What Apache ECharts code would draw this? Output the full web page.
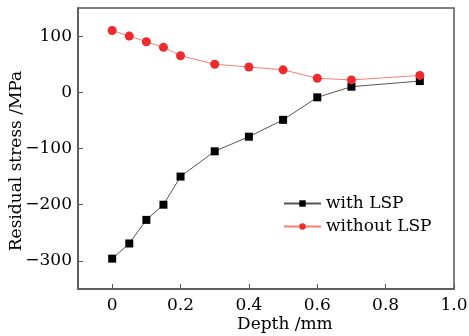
<!DOCTYPE html>
<html><head><meta charset="utf-8">
<script src="https://cdn.jsdelivr.net/npm/echarts@6/dist/echarts.min.js"></script>
<style>html,body{margin:0;padding:0;background:#fff}#c{width:469px;height:336px}</style>
</head><body><div id="c"></div>
<script>
const depth = [0, 0.05, 0.1, 0.15, 0.2, 0.3, 0.4, 0.5, 0.6, 0.7, 0.9];
const withLSP = [-296, -269, -227, -200, -150, -105, -79, -49, -9, 10, 20];
const withoutLSP = [110, 100, 90, 80, 65, 50, 45, 40, 25, 22, 30];
const xTicks = [0, 0.2, 0.4, 0.6, 0.8, 1.0];
const yTicks = [-300, -200, -100, 0, 100];
const F = '"DejaVu Serif",serif';
const chart = echarts.init(document.getElementById('c'));
chart.setOption({
  animation: false,
  grid: {left: 78, right: 15, top: 8, bottom: 47, show: true, borderColor: '#555', borderWidth: 1.5,
    containLabel: false, outerBoundsMode: 'none'},
  legend: {
    left: 278, top: 190, orient: 'vertical', itemWidth: 37, itemHeight: 8, itemGap: 6,
    textStyle: {fontFamily: F, fontSize: 17, color: '#000'},
    data: ['with LSP', 'without LSP']
  },
  xAxis: {
    type: 'value', min: -0.1, max: 1.0,
    axisLine: {onZero: false, lineStyle: {color: '#555', width: 1.5}},
    axisTick: {inside: true, length: 5, customValues: xTicks, lineStyle: {color: '#555'}},
    axisLabel: {customValues: xTicks, fontFamily: F, fontSize: 17, color: '#000', margin: 8,
      formatter: v => v === 0 ? '0' : v.toFixed(1)},
    splitLine: {show: false}
  },
  yAxis: {
    type: 'value', min: -350, max: 150,
    axisLine: {onZero: false, lineStyle: {color: '#555', width: 1.5}},
    axisTick: {inside: true, length: 5, customValues: yTicks, lineStyle: {color: '#555'}},
    axisLabel: {customValues: yTicks, fontFamily: F, fontSize: 17, color: '#000', margin: 6,
      formatter: v => v < 0 ? '\u2212' + (-v) : String(v)},
    splitLine: {show: false}
  },
  graphic: [
    {type: 'text', left: 237, top: 316,
      style: {text: 'Depth /mm', font: '17px ' + F, fill: '#000'}},
    {type: 'text', x: 17, y: 161, rotation: Math.PI / 2,
      style: {text: 'Residual stress /MPa', font: '17px ' + F, fill: '#000',
        align: 'center', verticalAlign: 'middle'}}
  ],
  series: [
    {name: 'with LSP', type: 'line', data: depth.map((d, i) => [d, withLSP[i]]),
      symbol: 'rect', symbolSize: 8, itemStyle: {color: '#000'},
      lineStyle: {color: '#555', width: 1}},
    {name: 'without LSP', type: 'line', data: depth.map((d, i) => [d, withoutLSP[i]]),
      symbol: 'circle', symbolSize: 9, itemStyle: {color: '#ee2a2a'},
      lineStyle: {color: '#f88070', width: 1}}
  ]
});
</script></body></html>
